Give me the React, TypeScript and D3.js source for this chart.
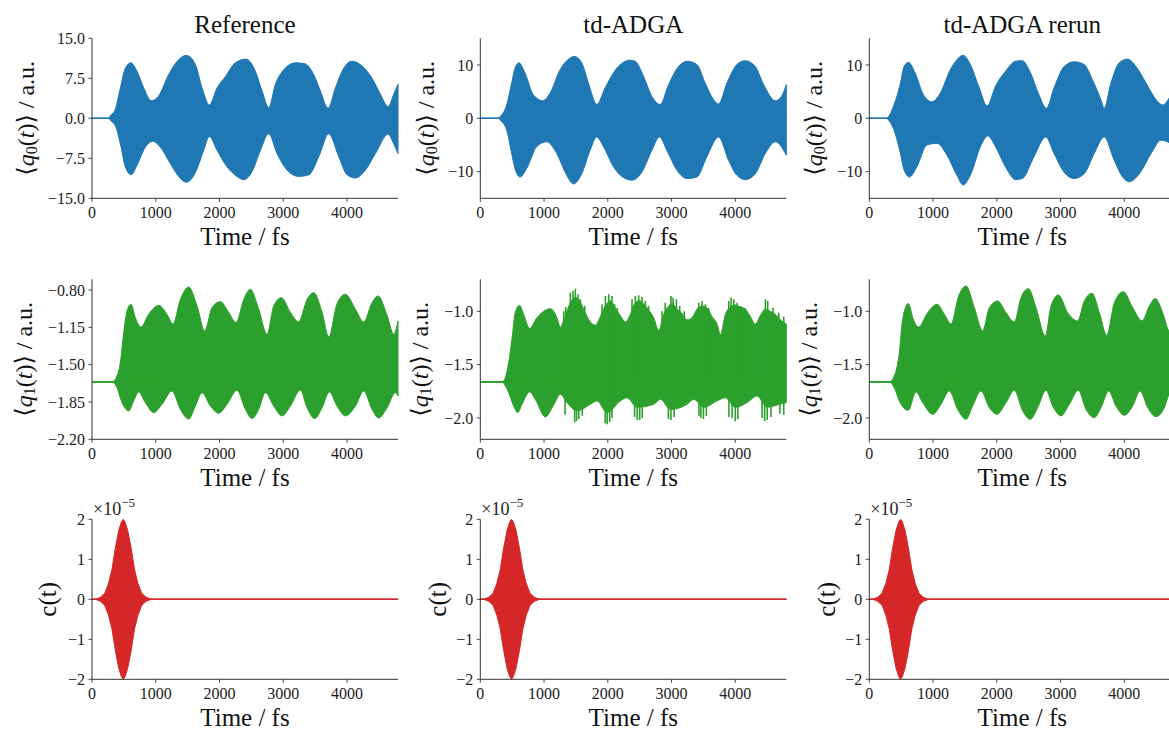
import React from 'react';
import * as d3 from 'd3';

// time axis, fs
const xTicks = [0, 1000, 2000, 3000, 4000];
const titles = ['Reference', 'td-ADGA', 'td-ADGA rerun'];

// <q0(t)> envelopes [time, value]
const q0RefUpper = [[0,0],[260,0],[290,0.5],[366,1.7],[445,5.7],[523,9.4],[612,10.4],[706,8.8],[811,5.7],[931,3.3],[1046,4.2],[1203,8.2],[1360,11.0],[1480,11.8],[1621,10.1],[1726,5.7],[1841,2.5],[1962,5.7],[2092,7.8],[2249,10.4],[2417,11.1],[2563,8.8],[2668,5.1],[2772,2.0],[2877,6.4],[3008,9.1],[3190,10.4],[3348,10.2],[3478,8.2],[3583,5.1],[3703,1.9],[3818,5.7],[3949,9.4],[4080,10.7],[4237,9.8],[4393,7.5],[4524,4.5],[4645,2.2],[4733,4.5],[4800,6.4]];
const q0RefLower = [[0,0],[260,0],[290,-0.4],[366,-1.4],[445,-4.8],[523,-9.1],[612,-10.6],[706,-8.8],[837,-5.4],[952,-4.3],[1072,-5.4],[1229,-8.5],[1360,-10.9],[1480,-12.0],[1621,-10.2],[1752,-6.0],[1841,-3.4],[1962,-6.0],[2118,-9.1],[2275,-10.9],[2380,-11.5],[2510,-10.0],[2642,-6.0],[2772,-2.9],[2903,-6.6],[3060,-9.7],[3243,-10.9],[3400,-10.6],[3557,-7.2],[3714,-2.9],[3871,-7.2],[4002,-10.6],[4132,-11.2],[4289,-9.7],[4446,-6.6],[4645,-3.0],[4733,-4.8],[4800,-6.6]];
const q0AdgaUpper = [[0,0],[280,0],[309,0.3],[414,2.5],[492,6.6],[544,9.4],[607,10.4],[701,8.5],[832,4.4],[979,3.3],[1094,4.7],[1251,9.1],[1408,11.3],[1471,11.6],[1591,10.4],[1696,6.6],[1827,2.6],[1958,5.7],[2141,9.4],[2350,10.9],[2429,10.7],[2560,7.9],[2691,4.1],[2822,2.6],[2953,6.3],[3110,9.7],[3240,10.7],[3397,10.1],[3528,6.6],[3659,3.5],[3738,2.7],[3869,6.6],[4026,10.1],[4157,10.8],[4314,9.7],[4445,6.3],[4628,3.3],[4706,3.8],[4800,6.3]];
const q0AdgaLower = [[0,0],[280,0],[309,-0.3],[414,-2.2],[492,-6.6],[544,-9.4],[623,-11.0],[728,-9.4],[885,-5.3],[1042,-4.4],[1199,-6.6],[1356,-10.7],[1461,-12.3],[1591,-10.4],[1722,-6.0],[1827,-3.5],[1932,-5.3],[2089,-9.1],[2272,-11.3],[2377,-11.6],[2534,-10.1],[2691,-6.0],[2811,-3.5],[2926,-6.0],[3083,-9.7],[3240,-11.3],[3397,-11.0],[3554,-7.2],[3738,-3.5],[3895,-7.9],[4026,-10.7],[4157,-11.5],[4314,-10.4],[4471,-6.6],[4628,-4.4],[4800,-6.9]];
const q0RerunUpper = [[0,0],[270,0],[300,0.3],[378,2.2],[483,6.3],[546,9.7],[614,10.5],[719,8.5],[850,4.4],[981,3.1],[1113,4.7],[1270,9.1],[1375,11.0],[1470,11.8],[1585,10.1],[1716,6.0],[1848,2.3],[1979,6.0],[2136,8.8],[2294,10.7],[2399,10.8],[2530,8.5],[2661,4.4],[2777,1.9],[2898,5.7],[3055,9.7],[3213,10.6],[3370,10.1],[3501,7.2],[3633,3.5],[3685,1.9],[3790,6.6],[3921,10.4],[4053,11.1],[4184,9.7],[4341,6.6],[4498,3.5],[4603,2.5],[4719,4.1],[4800,6.0]];
const q0RerunLower = [[0,0],[270,0],[300,-0.3],[378,-1.9],[483,-6.3],[546,-9.7],[630,-11.0],[746,-9.1],[903,-5.0],[1060,-4.7],[1218,-6.9],[1375,-10.7],[1470,-12.5],[1585,-10.7],[1743,-5.3],[1858,-3.3],[1979,-5.3],[2136,-9.1],[2294,-11.5],[2399,-11.3],[2583,-7.2],[2767,-3.5],[2898,-6.6],[3055,-10.1],[3213,-11.3],[3370,-10.4],[3528,-6.6],[3685,-3.5],[3843,-7.9],[3974,-11.0],[4079,-11.9],[4236,-10.4],[4420,-6.6],[4577,-4.1],[4719,-4.7],[4800,-5.5]];

// <q1(t)> envelopes
const q1Base = -1.6625;
const q1RefUpper = [[0,-1.6625],[314,-1.6625],[392,-1.606],[445,-1.48],[497,-1.2],[549,-0.997],[612,-0.934],[680,-1.06],[769,-1.147],[889,-1.028],[1046,-0.944],[1177,-1.03],[1271,-1.12],[1386,-0.89],[1517,-0.772],[1648,-0.95],[1768,-1.184],[1883,-0.966],[2014,-0.91],[2144,-1.01],[2259,-1.106],[2380,-0.89],[2484,-0.794],[2615,-0.98],[2746,-1.216],[2850,-0.95],[2971,-0.872],[3112,-1.01],[3243,-1.1],[3373,-0.89],[3478,-0.825],[3609,-1.01],[3714,-1.24],[3844,-0.93],[3975,-0.84],[4132,-0.98],[4262,-1.1],[4393,-0.92],[4487,-0.856],[4629,-1.04],[4733,-1.216],[4800,-1.09]];
const q1RefLower = [[0,-1.6625],[314,-1.6625],[392,-1.716],[471,-1.856],[575,-1.934],[654,-1.84],[732,-1.756],[837,-1.856],[968,-1.95],[1098,-1.872],[1255,-1.747],[1386,-1.919],[1517,-2.01],[1621,-1.888],[1726,-1.763],[1857,-1.888],[1987,-1.956],[2118,-1.872],[2275,-1.74],[2406,-1.919],[2510,-2.006],[2615,-1.919],[2720,-1.763],[2850,-1.888],[2981,-1.98],[3112,-1.888],[3269,-1.7375],[3373,-1.903],[3494,-2.006],[3609,-1.903],[3724,-1.756],[3844,-1.888],[3975,-1.98],[4132,-1.888],[4262,-1.747],[4393,-1.919],[4498,-2.0],[4629,-1.903],[4760,-1.7625],[4800,-1.794]];
const q1AdgaUpper = [[0,-1.6625],[340,-1.6625],[366,-1.655],[445,-1.48],[497,-1.26],[549,-1.01],[617,-0.944],[680,-1.03],[774,-1.16],[889,-1.06],[1020,-0.99],[1098,-0.975],[1203,-1.06],[1255,-1.15],[1300,-1.1],[1412,-0.92],[1490,-0.87],[1559,-0.9],[1621,-0.98],[1726,-1.1],[1805,-1.13],[1883,-1.05],[1962,-0.95],[2040,-0.9],[2118,-0.97],[2197,-1.04],[2275,-1.1],[2354,-1.03],[2420,-0.93],[2500,-0.9],[2563,-0.93],[2642,-0.99],[2720,-1.06],[2799,-1.18],[2877,-1.03],[2955,-0.95],[3010,-0.93],[3086,-0.98],[3164,-1.02],[3243,-1.08],[3321,-1.06],[3400,-0.98],[3478,-0.95],[3557,-0.97],[3635,-1.05],[3714,-1.12],[3766,-1.22],[3844,-1.03],[3923,-0.96],[4002,-0.94],[4080,-0.96],[4159,-0.98],[4237,-1.05],[4315,-1.12],[4393,-1.04],[4472,-0.98],[4550,-1.0],[4629,-1.03],[4707,-1.08],[4800,-1.12]];
const q1AdgaLower = [[0,-1.6625],[340,-1.6625],[366,-1.675],[445,-1.7625],[523,-1.8875],[586,-1.95],[654,-1.872],[774,-1.756],[863,-1.825],[1020,-1.99],[1150,-1.88],[1255,-1.778],[1360,-1.856],[1517,-1.934],[1726,-1.872],[1831,-1.84],[1987,-1.95],[2197,-1.84],[2301,-1.81],[2458,-1.9],[2720,-1.872],[2825,-1.825],[2981,-1.92],[3243,-1.872],[3348,-1.825],[3505,-1.9],[3714,-1.84],[3844,-1.81],[4002,-1.9],[4184,-1.856],[4341,-1.794],[4498,-1.9],[4707,-1.87],[4800,-1.856]];
const q1AdgaSpikesUp = [[1310,-1.0],[1340,-0.96],[1412,-0.825],[1454,-0.809],[1491,-0.7875],[1533,-0.84],[1570,-0.8875],[1638,-0.95],[1910,-0.934],[1962,-0.856],[2014,-0.84],[2066,-0.856],[2108,-0.934],[2150,-0.97],[2380,-0.8875],[2432,-0.856],[2484,-0.85],[2537,-0.8625],[2589,-0.903],[2640,-0.95],[2851,-1.0],[2900,-0.92],[2992,-0.856],[3024,-0.872],[3076,-0.8875],[3128,-0.95],[3200,-1.0],[3426,-0.919],[3478,-0.903],[3531,-0.934],[3580,-0.97],[3897,-0.903],[3934,-0.872],[3976,-0.8875],[4028,-0.919],[4091,-0.95],[4150,-0.97],[4472,-0.8875],[4508,-0.903],[4592,-0.966],[4681,-1.0125],[4760,-1.05]];
const q1AdgaSpikesDown = [[1330,-1.97],[1480,-2.04],[1510,-2.03],[1545,-2.01],[1600,-1.98],[1960,-2.05],[1990,-2.06],[2030,-2.04],[2065,-2.0],[2420,-1.99],[2460,-2.02],[2500,-2.02],[2540,-2.0],[2950,-2.01],[2990,-2.02],[3040,-1.99],[3430,-1.98],[3460,-2.0],[3500,-2.01],[3545,-1.98],[3900,-1.99],[3950,-2.0],[4000,-2.03],[4040,-2.01],[4420,-2.0],[4460,-2.03],[4500,-2.02],[4560,-1.99],[4700,-1.96],[4760,-1.97]];
const q1RerunUpper = [[0,-1.6625],[314,-1.6625],[392,-1.606],[471,-1.39],[523,-1.075],[612,-0.928],[690,-1.075],[774,-1.147],[915,-1.0125],[1062,-0.934],[1177,-1.028],[1281,-1.12],[1402,-0.856],[1517,-0.7625],[1648,-0.966],[1778,-1.184],[1883,-0.966],[2014,-0.903],[2144,-1.0125],[2275,-1.1],[2380,-0.872],[2495,-0.7875],[2615,-0.966],[2762,-1.231],[2850,-0.95],[2966,-0.847],[3112,-1.0125],[3269,-1.09],[3373,-0.903],[3494,-0.831],[3609,-1.0125],[3724,-1.225],[3844,-0.919],[3985,-0.816],[4132,-0.966],[4278,-1.09],[4393,-0.95],[4487,-0.881],[4602,-1.0125],[4707,-1.184],[4800,-1.1]];
const q1RerunLower = [[0,-1.6625],[314,-1.6625],[392,-1.716],[471,-1.84],[612,-1.928],[732,-1.756],[837,-1.856],[994,-1.966],[1124,-1.872],[1255,-1.747],[1386,-1.919],[1517,-2.0125],[1621,-1.8875],[1752,-1.747],[1883,-1.903],[2003,-1.966],[2144,-1.856],[2275,-1.74],[2406,-1.934],[2526,-2.0125],[2641,-1.903],[2772,-1.74],[2877,-1.8875],[3007,-1.98],[3138,-1.872],[3279,-1.74],[3400,-1.919],[3530,-1.997],[3635,-1.903],[3755,-1.747],[3870,-1.8875],[4001,-1.975],[4132,-1.8875],[4247,-1.747],[4367,-1.903],[4498,-1.9875],[4629,-1.903],[4707,-1.778],[4800,-1.75]];

// c(t) pulse envelope, same field in all three runs
const pulseUpper = [[0,0],[52,0],[131,0.05e-5],[200,0.15e-5],[260,0.4e-5],[314,0.75e-5],[366,1.28e-5],[419,1.72e-5],[460,1.93e-5],[490,2.0e-5],[520,1.93e-5],[561,1.72e-5],[614,1.28e-5],[666,0.75e-5],[720,0.4e-5],[780,0.15e-5],[849,0.05e-5],[930,0],[4800,0]];
const pulseLower = pulseUpper.map(([t, v]) => [t, -v]);

const C_BLUE = '#1f77b4';
const C_GREEN = '#2ca02c';
const C_RED = '#d62728';

const FONT = "'Liberation Serif', 'DejaVu Serif', serif";
const W = 306;
const H = 160;
const colLeft = [92, 480.3, 869.3];
const rowTop = [38.3, 279.3, 519.3];
const minus = (s) => s.replace('-', '\u2212');

const rows = [
  {
    domain: [-15, 15], base: 0, color: C_BLUE, label: 'q', sub: '0',
    labelOff: [66, 54, 55], curve: d3.curveMonotoneX,
    ticks: [[-15, -7.5, 0, 7.5, 15], [-10, 0, 10], [-10, 0, 10]],
    fmt: [(d) => d.toFixed(1), (d) => String(d), (d) => String(d)],
    series: [[q0RefUpper, q0RefLower], [q0AdgaUpper, q0AdgaLower], [q0RerunUpper, q0RerunLower]],
  },
  {
    domain: [-2.2, -0.7], base: q1Base, color: C_GREEN, label: 'q', sub: '1',
    labelOff: [68, 60, 60], curve: d3.curveMonotoneX,
    ticks: [[-2.2, -1.85, -1.5, -1.15, -0.8], [-2, -1.5, -1], [-2, -1.5, -1]],
    fmt: [(d) => d.toFixed(2), (d) => d.toFixed(1), (d) => d.toFixed(1)],
    series: [[q1RefUpper, q1RefLower], [q1AdgaUpper, q1AdgaLower], [q1RerunUpper, q1RerunLower]],
  },
  {
    domain: [-2e-5, 2e-5], base: 0, color: C_RED, label: 'c',
    labelOff: [45, 43, 43], curve: d3.curveLinear,
    ticks: [[-2e-5, -1e-5, 0, 1e-5, 2e-5], [-2e-5, -1e-5, 0, 1e-5, 2e-5], [-2e-5, -1e-5, 0, 1e-5, 2e-5]],
    fmt: [(d) => String(Math.round(d * 1e5)), (d) => String(Math.round(d * 1e5)), (d) => String(Math.round(d * 1e5))],
    series: [[pulseUpper, pulseLower], [pulseUpper, pulseLower], [pulseUpper, pulseLower]],
  },
];

function Panel({ r, c }) {
  const row = rows[r];
  const left = colLeft[c];
  const top = rowTop[r];
  const x = d3.scaleLinear().domain([0, 4800]).range([left, left + W]);
  const y = d3.scaleLinear().domain(row.domain).range([top + H, top]);
  const [up, lo] = row.series[c];

  const area = d3.area()
    .x((d) => x(d[0]))
    .y0(y(row.base))
    .y1((d) => y(d[1]))
    .curve(row.curve);

  const spikes = r === 1 && c === 1 ? [...q1AdgaSpikesUp, ...q1AdgaSpikesDown] : [];
  const ticksY = row.ticks[c];
  const cy = top + H / 2;
  const lx = left - row.labelOff[c];

  return (
    <g>
      <path d={area(up)} fill={row.color} stroke={row.color} strokeWidth={1} />
      <path d={area(lo)} fill={row.color} stroke={row.color} strokeWidth={1} />
      <line x1={x(0)} x2={x(4800)} y1={y(row.base)} y2={y(row.base)} stroke={row.color} strokeWidth={1.2} />
      {spikes.map(([t, v], i) => (
        <line key={i} x1={x(t)} x2={x(t)} y1={y(row.base)} y2={y(v)} stroke={row.color} strokeWidth={1.6} />
      ))}

      {/* spines */}
      <line x1={left} x2={left} y1={top} y2={top + H} stroke="#333" strokeWidth={1} />
      <line x1={left} x2={left + W} y1={top + H} y2={top + H} stroke="#333" strokeWidth={1} />

      {xTicks.map((t) => (
        <g key={t}>
          <line x1={x(t)} x2={x(t)} y1={top + H} y2={top + H + 3.5} stroke="#333" strokeWidth={0.9} />
          <text x={x(t)} y={top + H + 19.5} textAnchor="middle" fontSize={16} fontFamily={FONT} fill="#222">{t}</text>
        </g>
      ))}
      {ticksY.map((v) => (
        <g key={v}>
          <line x1={left - 3.5} x2={left} y1={y(v)} y2={y(v)} stroke="#333" strokeWidth={0.9} />
          <text x={left - 7} y={y(v)} dy="0.35em" textAnchor="end" fontSize={16} fontFamily={FONT} fill="#222">{minus(row.fmt[c](v))}</text>
        </g>
      ))}

      <text x={left + W / 2} y={top + H + 46.5} textAnchor="middle" fontSize={25} fontFamily={FONT} fill="#111">Time / fs</text>

      {r < 2 ? (
        <text transform={`translate(${lx},${cy}) rotate(-90)`} textAnchor="middle" dominantBaseline="central" fontSize={24} fontFamily={FONT} fill="#111">
          {'\u27E8'}<tspan fontStyle="italic">{row.label}</tspan><tspan fontSize={16} dy={5}>{row.sub}</tspan><tspan dy={-5}>(</tspan><tspan fontStyle="italic">t</tspan>{')\u27E9 / a.u.'}
        </text>
      ) : (
        <text transform={`translate(${lx},${cy}) rotate(-90)`} textAnchor="middle" dominantBaseline="central" fontSize={25} fontFamily={FONT} fill="#111">c(t)</text>
      )}

      {r === 2 && (
        <text x={left + 1} y={top - 4} fontSize={18} fontFamily={FONT} fill="#222">
          {'\u00D710'}<tspan fontSize={13} dy={-8}>{'\u22125'}</tspan>
        </text>
      )}
      {r === 0 && (
        <text x={left + W / 2} y={33} textAnchor="middle" fontSize={25} fontFamily={FONT} fill="#111">{titles[c]}</text>
      )}
    </g>
  );
}

export default function App() {
  const cells = [];
  for (let r = 0; r < 3; r++) for (let c = 0; c < 3; c++) cells.push([r, c]);
  return (
    <svg width={1169} height={733} style={{ position: 'absolute', left: 0, top: 0, background: '#fff' }}>
      <rect width={1169} height={733} fill="#fff" />
      {cells.map(([r, c]) => <Panel key={`${r}-${c}`} r={r} c={c} />)}
    </svg>
  );
}
